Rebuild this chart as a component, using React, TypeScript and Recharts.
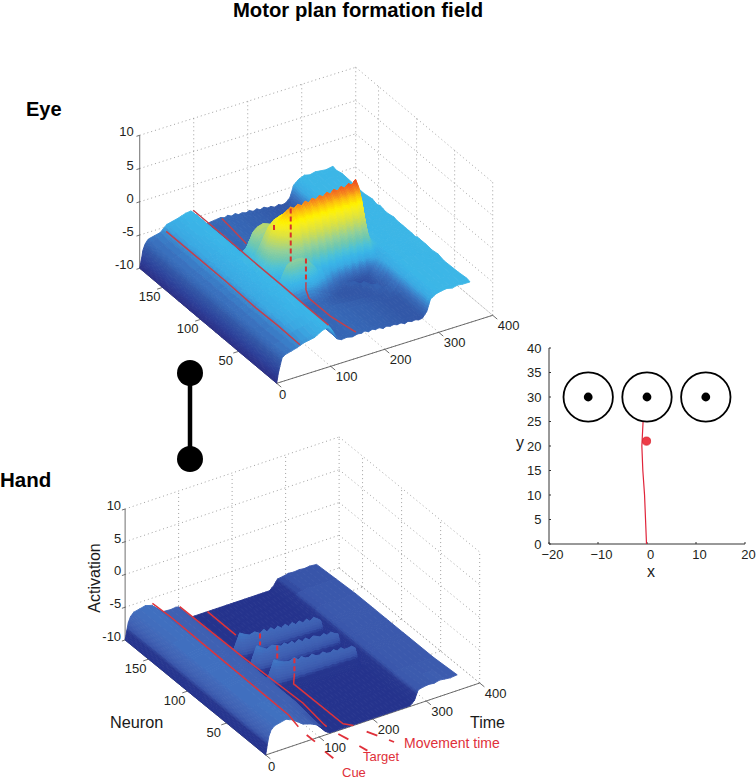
import { ScatterChart, Scatter, XAxis, YAxis } from "recharts";

const FONT = "'Liberation Sans', Arial, sans-serif";
const W = 756;
const H = 784;

// shared time samples of both surfaces
const times = [
  0, 3, 6, 10, 16, 38, 50, 70, 85, 95, 100, 105, 112, 120, 130, 140, 150, 157, 163, 170, 177, 183,
  190, 197, 203, 210, 217, 223, 230, 237, 243, 250, 257, 263, 270, 278, 285, 295, 305, 315, 325,
  335, 345, 358,
];

const timeTicks = [0, 100, 200, 300, 400];
const neuronTicks = [50, 100, 150];
const activationTicks = [-10, -5, 0, 5, 10];

// ---- eye surface, one row per neuron
const eyeLeft = [-10, -8.7, -7.5, -6.6, -6.2, -5.7, -4.8, -4.3, -4];
const eyeLeftB = [-10, -8.7, -7.5, -6.6, -6.1, -5.6, -4.6, -4.4, -3.9];
const eyeLeftC = [-10, -8.6, -7.4, -6.5, -6.2, -5.7, -4.9, -4.2, -4.1];
const eyeRight = [-4.8, -4, -3.9, -3.9, -3.9, -3.9, -3.9, -3.9];
const eyeRightB = [-4.7, -4.1, -3.8, -4, -3.85, -4.05, -3.8, -4];
const eyeRightC = [-4.9, -3.9, -4, -3.8, -4, -3.85, -4, -3.75];
const eyePeakRight = [-2.3, -3.7, -3.9, -4, -3.9, -3.9, -3.9, -3.9];
const eyeFlankRight = [-3.4, -3.9, -3.9, -4, -3.9, -3.9, -3.9, -3.9];
const eyeSoftRight = [-4.6, -4.1, -3.9, -3.9, -4, -3.9, -3.9, -3.8];
const eyePlain = [
  -3.9, -4.2, -5.1, -6.1, -6.5, -6.5, -6.4, -6.4, -6.4, -6.5, -6.5, -6.5, -6.6, -6.6, -6.6, -6.7,
  -6.7, -6.8, -6.8, -6.9, -6.9, -7, -7, -7, -7, -7, -6.4,
];
const eyeNeurons = [180, 176, 168, 150, 140, 128, 125, 122, 118, 114, 110, 105, 100, 96, 92, 88, 84, 80, 76, 72, 69, 66, 62, 58, 50, 42, 34, 15, 4, 0];
const eyeRows = [
  [-10, -8.8, -7.4, -6.6, -6, -5.6, -4.7, -4.3, -3.9, -3.8, -4.3, -5.2, -6, -6.6, -6.4, -6.3, -6.2, -6.4, -6.2, -6.5, -6.3, -6.6, -6.5, -6.7, -6.5, -6.8, -6.6, -6.9, -6.7, -7, -6.9, -7.2, -7, -7.2, -7.1, -6.5, -4.8, -4.1, -3.8, -4, -3.8, -3.9, -4, -3.8],
  [...eyeLeftB, ...eyePlain, ...eyeRightB],
  [...eyeLeft, ...eyePlain, ...eyeRightC],
  [...eyeLeftC, ...eyePlain, ...eyeRight],
  [...eyeLeftB, ...eyePlain, ...eyeRightB],
  [...eyeLeft, ...eyePlain, ...eyeRightC],
  [...eyeLeftC, -3.9, -4.2, -5, -5.2, -5.1, -5.1, -5.2, -5.6, -5.9, -6.1, -6.2, -6.3, -6.4, -6.5, -6.6, -6.6, -6.7, -6.7, -6.8, -6.9, -6.9, -7, -7, -7, -7, -7, -6.4, ...eyeRight],
  [...eyeLeft, -4, -4.3, -5, -5, -4.8, -4.7, -4.8, -5.3, -5.6, -5.8, -6, -6.1, -6.3, -6.4, -6.5, -6.6, -6.6, -6.7, -6.8, -6.9, -6.9, -7, -7, -7, -7, -7, -6.4, ...eyeRightB],
  [...eyeLeftB, -4.1, -4.2, -4.5, -4.3, -3.8, -3.6, -3.8, -4.2, -4.8, -5.3, -5.7, -6, -6.2, -6.4, -6.5, -6.6, -6.6, -6.7, -6.7, -6.8, -6.8, -6.9, -6.9, -7, -7, -7, -6.4, ...eyeRightC],
  [...eyeLeftC, -4, -3.6, -3.2, -2.4, -1.9, -1.7, -1.9, -2.4, -3, -3.6, -4.2, -4.8, -5.2, -5.6, -5.9, -6.2, -6.3, -6.5, -6.6, -6.7, -6.8, -6.9, -6.9, -7, -7, -7, -6.4, ...eyeRight],
  [...eyeLeft, -3.7, -3, -1.8, -0.6, -0.1, 0.1, -0.2, -0.6, -1.2, -2, -2.8, -3.5, -4.2, -4.8, -5.3, -5.7, -6, -6.3, -6.5, -6.7, -6.8, -6.9, -7, -7, -7, -7, -6.4, ...eyeRightB],
  [...eyeLeftB, -3.6, -2.8, -1.8, -1, -0.7, -0.5, -0.5, -0.8, -1, -1.3, -1.6, -2, -2.5, -2.9, -3.4, -3.8, -4.2, -4.6, -5, -5.3, -5.6, -5.8, -6, -6.2, -6.3, -6.3, -5.8, ...eyeRight],
  [...eyeLeft, -3.7, -3.2, -2.5, -2.4, -2.4, -2.2, -2, -2.1, -2, -1.9, -2, -1.9, -2, -1.9, -2.1, -2, -2.2, -2.1, -2.3, -2.2, -2.4, -2.3, -2.5, -2.4, -2.6, -2.5, -3, ...eyeRightC],
  [...eyeLeftC, -3.5, -2.5, -1.2, 0, 1.2, 2, 2.3, 2.5, 2.1, 2.6, 2.2, 2.7, 2.3, 2.8, 2.4, 2.9, 2.5, 3, 2.6, 3.1, 2.7, 3.2, 2.8, 3.3, 2.9, 3.4, -1.2, ...eyeFlankRight],
  [...eyeLeftB, -3.5, -2.8, -1.5, -0.3, 1, 2, 2.8, 3.2, 2.8, 3.3, 2.9, 3.4, 3, 3.5, 3.1, 3.6, 3.2, 3.7, 3.3, 3.8, 3.4, 3.9, 3.5, 4, 3.6, 4.2, -0.8, ...eyeFlankRight],
  [...eyeLeft, -3.5, -2.5, -1, 0.5, 2, 3, 3.7, 4.2, 3.8, 4.3, 3.9, 4.4, 4, 4.5, 4.1, 4.6, 4.2, 4.7, 4.3, 4.8, 4.4, 4.9, 4.5, 5, 4.6, 5.3, 0, ...eyePeakRight],
  [...eyeLeftC, -3.6, -2.8, -1.6, -0.5, 1, 2.2, 3, 3.6, 3, 3.7, 3.1, 3.8, 3.2, 3.9, 3.3, 4, 3.4, 4.1, 3.5, 4.2, 3.6, 4.3, 3.7, 4.4, 3.8, 4.5, -0.8, ...eyeFlankRight],
  [...eyeLeft, -3.8, -3.3, -2.6, -1.7, -0.5, 0.8, 1.6, 2.2, 1.2, 2.3, 1.3, 2.4, 1.4, 2.5, 1.5, 2.6, 1.6, 2.7, 1.7, 2.8, 1.8, 2.9, 1.9, 3, 2, 2.9, -1.5, ...eyeFlankRight],
  [...eyeLeftB, -3.9, -3.9, -3.9, -3.5, -2.5, -1.4, -0.6, 0.2, -1, 0.3, -0.9, 0.4, -0.8, 0.5, -0.8, 0.5, -0.7, 0.6, -0.7, 0.6, -0.6, 0.7, -0.6, 0.8, -0.5, 0.2, -2.6, ...eyeFlankRight],
  [...eyeLeftC, -3.9, -4.1, -4.6, -4.6, -4, -3.2, -2.6, -2, -3.4, -2, -3.6, -2.1, -3.7, -2.2, -3.8, -2.3, -3.8, -2.4, -3.9, -2.5, -4, -2.5, -4, -2.4, -4, -2.4, -3.6, ...eyeRightB],
  [...eyeLeft, -3.9, -4, -3.9, -3.3, -3, -2.7, -2.5, -2.6, -3.4, -3.2, -4.2, -3.6, -4.7, -4.1, -5.2, -4.6, -5.6, -5, -5.9, -5.2, -6.1, -5.3, -6.2, -5.4, -6.1, -4.8, -4.6, ...eyeSoftRight],
  [...eyeLeftB, -3.9, -3.7, -2.6, -1.5, -1.1, -1, -1.1, -1.6, -2.4, -2.9, -3.9, -4, -4.9, -5, -5.9, -5.8, -6.6, -6.4, -6.9, -7.1, -7.6, -7.7, -7.8, -7.6, -7.2, -6.2, -5.2, ...eyeSoftRight],
  [...eyeLeftC, -4, -4.3, -4.4, -3.5, -3, -3, -3.2, -3.6, -4.1, -4.5, -5.2, -5.2, -6.1, -6, -6.7, -6.6, -7, -6.8, -6.7, -6.5, -6.9, -7.6, -7.8, -7.5, -7, -6.2, -5.4, ...eyeSoftRight],
  [...eyeLeft, -3.9, -4.2, -5, -5.6, -5.3, -5.2, -5.3, -5.4, -5.7, -5.9, -6.2, -6.4, -6.7, -6.9, -7, -7.1, -7.1, -7.1, -7.1, -7, -6.8, -6.5, -6.9, -7.5, -7, -6.4, -5.7, ...eyeSoftRight],
  [...eyeLeftB, -3.9, -4.2, -5.1, -6.1, -6.5, -6.5, -6.4, -6.4, -6.5, -6.7, -6.8, -6.9, -7, -7, -7.1, -7.1, -7.1, -7.1, -7.1, -7.1, -7.1, -7, -6.6, -6.4, -6.9, -6.8, -6.2, ...eyeRight],
  [...eyeLeft, -3.9, -4.2, -5.1, -6.1, -6.5, -6.5, -6.4, -6.4, -6.5, -6.5, -6.6, -6.6, -6.7, -6.7, -6.8, -6.8, -6.9, -6.9, -7, -7, -7, -7, -7, -6.9, -6.7, -6.4, -5.8, ...eyeRightC],
  [...eyeLeftC, ...eyePlain, ...eyeRightB],
  [-10, -8.7, -7.5, -6.5, -6.1, -5.6, -5, -4.7, -4.3, ...eyePlain, ...eyeRight],
  [-10, -8.7, -7.5, -6.5, -6, -5.6, -5.3, -4.9, -4.3, ...eyePlain, ...eyeRightC],
  [-10, -8.6, -7.6, -6.4, -6.1, -5.6, -5.2, -4.9, -4.2, -4, -4.3, -5, -6.2, -6.5, -6.4, -6.6, -6.4, -6.5, -6.3, -6.6, -6.4, -6.6, -6.5, -6.8, -6.6, -6.8, -6.7, -6.9, -6.8, -7.1, -6.9, -7.1, -7, -7.2, -7.1, -6.3, -4.6, -4.1, -3.9, -3.8, -4, -3.8, -3.9, -3.9],
];

// ---- hand surface
const handLeft = [-10, -8.6, -7.4, -6.6, -6.1, -5.8, -6, -7.3, -7.4, -7.4];
const handRight = [-8.1, -7.9, -7.9, -7.9, -7.9, -7.9, -7.9, -7.9];
const handFloor = [
  -7.6, -8.6, -9.6, -9.9, -9.9, -9.9, -9.9, -9.9, -9.9, -9.9, -9.9, -9.9, -9.9, -9.9, -9.9, -9.9,
  -9.9, -9.9, -9.9, -9.9, -9.9, -9.9, -9.9, -9.9, -9.9, -9.3,
];
const handShoulder = [
  -7.6, -8.6, -7.6, -7.7, -7.8, -7.9, -8, -7.9, -8.1, -8, -8.1, -8.2, -8.2, -8.3, -8.2, -8.4,
  -8.3, -8.5, -8.4, -8.6, -8.5, -8.7, -8.6, -9, -9.8, -9.3,
];
const handRidgeA = [-7.6, -6.6, -5.2, -5.6, -6, -5.8, -6.3, -5.9, -6.4, -6, -6.5, -6.1, -6.6, -6.2, -6.7, -6.3, -6.8, -6.4, -6.9, -6.5, -7, -6.6, -7, -7.4, -9.6, -9.3];
const handRidgeB = [-7.6, -6.4, -5, -5.5, -6, -5.7, -6, -6.3, -6, -6.4, -6.1, -6.6, -6.2, -6.7, -6.3, -6.8, -6.4, -6.6, -6.9, -6.6, -7, -6.7, -7.1, -7.3, -9.6, -9.3];
const handRidgeC = [-7.6, -6.5, -5, -5.4, -5.8, -6, -5.7, -6.2, -5.9, -6.3, -6.4, -6.1, -6.5, -6.6, -6.3, -6.7, -6.8, -6.5, -6.9, -6.6, -7, -7, -6.9, -7.3, -9.6, -9.3];
const handNeurons = [180, 130, 113, 110, 107, 105, 91, 88, 85, 83, 69, 66, 63, 61, 30, 0];
const handRows = [
  [-10, -8.7, -7.5, -6.7, -6.2, -5.8, -6.1, -7.6, -7.7, -7.6, -7.7, -8.7, -9.7, ...handFloor.slice(3), -8.5, -8.4, -8.2, -8.3, -8.2, -8.3, -8.2, -8.3],
  [...handLeft, ...handFloor, ...handRight],
  [...handLeft, ...handFloor, ...handRight],
  [...handLeft, ...handRidgeA, ...handRight],
  [...handLeft, ...handShoulder, ...handRight],
  [...handLeft, ...handFloor, ...handRight],
  [...handLeft, ...handFloor, ...handRight],
  [...handLeft, ...handRidgeB, ...handRight],
  [...handLeft, ...handShoulder, ...handRight],
  [...handLeft, ...handFloor, ...handRight],
  [...handLeft, ...handFloor, ...handRight],
  [...handLeft, ...handRidgeC, ...handRight],
  [...handLeft, ...handShoulder, ...handRight],
  [...handLeft, ...handFloor, ...handRight],
  [...handLeft, ...handFloor, ...handRight],
  [-10, -8.5, -7.3, -6.5, -6, -5.6, -6, -7.2, -7.6, -8, -8.2, -8.6, -9.5, ...handFloor.slice(3), -7.9, -7.7, -7.6, -7.7, -7.5, -7.6, -7.7, -7.6],
];

// ---- red marker lines, each as [time, neuron, activation]
const eyeMarkerLines = [
  [[49, 180, -5.7], [48, 140, -5.6], [47, 100, -5.5], [46, 60, -5.6], [45, 30, -5.4], [43, 0, -5.3]],
  [[99, 180, -3.8], [98, 140, -3.7], [98, 100, -3.8], [97, 60, -3.7], [97, 30, -3.8], [96, 0, -3.7]],
  [[152, 180, -6.4], [151, 165, -6.6], [151, 147, -7]],
  [[150, 68, -5.3], [150, 68, -6.3], [150, 64, -7.2], [150, 36, -7.2], [149, 15, -6.6], [148, 1, -6.2]],
];
const eyeMarkerDashes = [
  [[150, 110, -0.6], [150, 110, -1.4]],
  [[150, 88, 4], [150, 88, -4]],
  [[150, 68, -1.6], [150, 68, -5.3]],
];
const handMarkerLines = [
  [[51, 180, -5.8], [52, 158, -5.7], [54, 93, -6], [56, 9, -6.3], [61, 0, -7.35]],
  [[102, 180, -7.7], [105, 100, -7.8], [108, 26, -7.6], [112, 3, -8.6], [114, 0, -8.8]],
  [[154, 180, -9.9], [153, 143, -9.85]],
  [[150, 66, -8.1], [150, 67, -9.8], [152, 5, -9.9], [164, 0, -10]],
];
const handMarkerDashes = [
  [[150, 110, -6.3], [150, 110, -8.1]],
  [[150, 88, -6], [150, 88, -8]],
  [[150, 66, -5.8], [150, 66, -8.1]],
];
const handLeaderTicks = [
  [[86.7, 6.9, -10], [86.9, -3.6, -10]],
  [[84, -18.4, -10], [84.2, -28.9, -10]],
  [[130.2, -3.8, -10], [134.8, -13.5, -10]],
  [[138.6, -25, -10], [141.7, -33.1, -10]],
  [[171.5, -11.8, -10], [179.2, -20.2, -10]],
  [[187.6, -29.4, -10], [191, -33.5, -10]],
];

// ---- trajectory panel
const planeTicksX = [-20, -10, 0, 10, 20];
const planeTicksY = [0, 5, 10, 15, 20, 25, 30, 35, 40];
const targets = [{ x: -12, y: 30 }, { x: 0, y: 30 }, { x: 12, y: 30 }];
const trajectory = [
  { x: -0.1, y: 0 }, { x: -0.3, y: 5 }, { x: -0.5, y: 10 }, { x: -0.85, y: 15 }, { x: -1.05, y: 20 }, { x: -0.8, y: 25 },
];
const hand = [{ x: -0.1, y: 21 }];

// colour maps, activation -> colour
const eyeColors: [number, string][] = [
  [-10, "#2b2f86"], [-8.7, "#2c3f98"], [-7, "#3258a8"], [-6, "#3a72bf"], [-5.3, "#3a90d4"], [-4.8, "#3aa8e2"], [-4, "#3ab5e8"],
  [-3, "#4dc2d8"], [-2, "#70c8b0"], [-1, "#93d19a"], [0, "#bcd96a"], [1, "#dfe33f"], [2, "#f7ee1e"], [2.6, "#fff200"],
  [3.5, "#fdc010"], [4.2, "#f58220"], [5, "#ee4e22"], [6, "#ee3124"],
];
const handColors: [number, string][] = [
  [-10, "#25338d"], [-8.7, "#27378f"], [-8.2, "#3854a9"], [-7.5, "#3f60b2"], [-6.5, "#4268b9"], [-5.5, "#3f74c3"], [-5, "#4a7cc6"],
];

type View = { ox: number; oy: number; tx: number; ty: number; nx: number; ny: number; zs: number; zDx: number };
const eyeView: View = { ox: 276.7, oy: 383.3, tx: 0.54, ty: -0.17, nx: -0.761, ny: -0.639, zs: 6.65, zDx: -6 };
const handView: View = { ox: 265.7, oy: 755, tx: 0.535, ty: -0.18, nx: -0.781, ny: -0.639, zs: 6.55, zDx: -4 };

const project = (v: View, t: number, n: number, z: number) => ({
  x: v.ox + t * v.tx + n * v.nx,
  y: v.oy + t * v.ty + n * v.ny - (z + 10) * v.zs,
});

const colorAt = (stops: [number, string][], z: number) => {
  if (z <= stops[0][0]) return stops[0][1];
  for (let i = 1; i < stops.length; i++) {
    if (z <= stops[i][0]) {
      const f = (z - stops[i - 1][0]) / (stops[i][0] - stops[i - 1][0]);
      const a = stops[i - 1][1];
      const b = stops[i][1];
      const ch = (k: number) => {
        const ca = parseInt(a.slice(k, k + 2), 16);
        const cb = parseInt(b.slice(k, k + 2), 16);
        return Math.round(ca + (cb - ca) * f);
      };
      return `rgb(${ch(1)},${ch(3)},${ch(5)})`;
    }
  }
  return stops[stops.length - 1][1];
};

// painter's order: far corner first. Big cells are split only for shading.
const buildSurface = (v: View, neurons: number[], rows: number[][], stops: [number, string][]) => {
  const cells: any[] = [];
  for (let r = 0; r < neurons.length - 1; r++) {
    for (let c = times.length - 2; c >= 0; c--) {
      const z00 = rows[r][c];
      const z01 = rows[r][c + 1];
      const z10 = rows[r + 1][c];
      const z11 = rows[r + 1][c + 1];
      const subT = Math.min(5, Math.max(1, Math.ceil(Math.max(Math.abs(z01 - z00), Math.abs(z11 - z10)) / 0.35)));
      const subN = Math.min(6, Math.max(1, Math.ceil(Math.max(Math.abs(z10 - z00), Math.abs(z11 - z01)) / 0.35)));
      const at = (a: number, b: number) => {
        const t = times[c] + (times[c + 1] - times[c]) * a;
        const n = neurons[r] + (neurons[r + 1] - neurons[r]) * b;
        const z = (z00 * (1 - a) + z01 * a) * (1 - b) + (z10 * (1 - a) + z11 * a) * b;
        return { ...project(v, t, n, z), z };
      };
      for (let j = 0; j < subN; j++) {
        for (let i = subT - 1; i >= 0; i--) {
          const p = [at(i / subT, j / subN), at((i + 1) / subT, j / subN), at((i + 1) / subT, (j + 1) / subN), at(i / subT, (j + 1) / subN)];
          cells.push({
            x: p[0].x,
            y: p[0].y,
            pts: p,
            fill: colorAt(stops, (p[0].z + p[1].z + p[2].z + p[3].z) / 4),
          });
        }
      }
    }
  }
  return cells;
};

const CellShape = (props: any) => {
  const { cx, cy, payload } = props;
  const dx = cx - payload.x;
  const dy = cy - payload.y;
  const pts = payload.pts.map((p: any) => `${(p.x + dx).toFixed(1)},${(p.y + dy).toFixed(1)}`).join(" ");
  return <polygon points={pts} fill={payload.fill} stroke={payload.fill} strokeWidth={0.9} strokeLinejoin="round" />;
};

const seg = (v: View, a: number[], b: number[]) => {
  const p = project(v, a[0], a[1], a[2]);
  const q = project(v, b[0], b[1], b[2]);
  return { x: p.x, y: p.y, x2: q.x, y2: q.y };
};

const gridSegments = (v: View) => {
  const out: any[] = [];
  activationTicks.forEach((z) => {
    out.push(seg(v, [0, 180, z], [400, 180, z]));
    out.push(seg(v, [400, 180, z], [400, 0, z]));
  });
  timeTicks.slice(1).forEach((t) => {
    out.push(seg(v, [t, 180, -10], [t, 180, 10]));
    out.push(seg(v, [t, 0, -10], [t, 180, -10]));
  });
  [0, ...neuronTicks].forEach((n) => {
    out.push(seg(v, [400, n, -10], [400, n, 10]));
    out.push(seg(v, [0, n, -10], [400, n, -10]));
  });
  return out;
};

const axisSegments = (v: View) => {
  const out: any[] = [seg(v, [0, 180, -10], [0, 180, 10]), seg(v, [0, 0, -10], [400, 0, -10]), seg(v, [0, 0, -10], [0, 180, -10])];
  timeTicks.forEach((t) => out.push(seg(v, [t, 0, -10], [t, -6, -10])));
  neuronTicks.forEach((n) => out.push(seg(v, [0, n, -10], [-10, n, -10])));
  activationTicks.forEach((z) => out.push(seg(v, [0, 180, z], [-6, 180, z])));
  return out;
};

const GridShape = (props: any) => {
  const { cx, cy, payload } = props;
  return (
    <line x1={cx} y1={cy} x2={cx + payload.x2 - payload.x} y2={cy + payload.y2 - payload.y}
      stroke="#969696" strokeWidth={0.9} strokeDasharray="1 3" />
  );
};
const AxisShape = (props: any) => {
  const { cx, cy, payload } = props;
  return (
    <line x1={cx} y1={cy} x2={cx + payload.x2 - payload.x} y2={cy + payload.y2 - payload.y}
      stroke="#4a4a4a" strokeWidth={0.8} />
  );
};
const TickText = (props: any) => {
  const { cx, cy, payload } = props;
  return (
    <text x={cx + payload.dx} y={cy + payload.dy} textAnchor={payload.anchor} fontSize={13} fontFamily={FONT} fill="#231f20">
      {payload.label}
    </text>
  );
};
const NoDot = () => <g />;

const tickLabels = (v: View) => [
  ...timeTicks.map((t) => ({
    ...project(v, t, 0, -10),
    label: String(t),
    dx: t === 0 ? 6 : 16,
    dy: t === 0 ? 16 : 15,
    anchor: "middle",
  })),
  ...neuronTicks.map((n) => ({
    ...project(v, 0, n, -10),
    label: String(n),
    dx: -13,
    dy: 14,
    anchor: "middle",
  })),
  ...activationTicks.map((z) => ({
    ...project(v, 0, 180, z),
    label: String(z),
    dx: v.zDx,
    dy: 1,
    anchor: "end",
  })),
];

const curve = (v: View, pts: number[][]) => pts.map((p) => project(v, p[0], p[1], p[2]));

const eyeCells = buildSurface(eyeView, eyeNeurons, eyeRows, eyeColors);
const handCells = buildSurface(handView, handNeurons, handRows, handColors);

function Surface3D() {
  const panels = [
    { v: eyeView, cells: eyeCells, lines: eyeMarkerLines, dashes: eyeMarkerDashes, line: "#c2404c", dash: "#d8322c" },
    { v: handView, cells: handCells, lines: handMarkerLines, dashes: handMarkerDashes, line: "#e0343a", dash: "#e0303a" },
  ];
  return (
    <ScatterChart width={W} height={H} margin={{ top: 0, right: 0, bottom: 0, left: 0 }}>
      <XAxis type="number" dataKey="x" domain={[0, W]} hide />
      <YAxis type="number" dataKey="y" domain={[0, H]} reversed hide />
      {panels.flatMap((p, k) => [
        <Scatter key={`g${k}`} data={gridSegments(p.v)} shape={GridShape} isAnimationActive={false} />,
        <Scatter key={`a${k}`} data={axisSegments(p.v)} shape={AxisShape} isAnimationActive={false} />,
        <Scatter key={`t${k}`} data={tickLabels(p.v)} shape={TickText} isAnimationActive={false} />,
        <Scatter key={`s${k}`} data={p.cells} shape={CellShape} isAnimationActive={false} />,
        ...p.lines.map((l, i) => (
          <Scatter key={`l${k}${i}`} data={curve(p.v, l)} shape={NoDot} line={{ stroke: p.line, strokeWidth: 1.5 }} isAnimationActive={false} />
        )),
        ...p.dashes.map((l, i) => (
          <Scatter key={`d${k}${i}`} data={curve(p.v, l)} shape={NoDot} line={{ stroke: p.dash, strokeWidth: 2, strokeDasharray: "5 3" }} isAnimationActive={false} />
        )),
      ])}
      {handLeaderTicks.map((l, i) => (
        <Scatter key={`m${i}`} data={curve(handView, l)} shape={NoDot} line={{ stroke: "#e0303a", strokeWidth: 1.8 }} isAnimationActive={false} />
      ))}
    </ScatterChart>
  );
}

const TargetShape = (props: any) => {
  const { cx, cy } = props;
  return (
    <g>
      <circle cx={cx} cy={cy} r={24.7} fill="none" stroke="#000" strokeWidth={1.8} />
      <circle cx={cx} cy={cy} r={4.4} fill="#000" />
    </g>
  );
};
const HandDot = (props: any) => (
  <circle cx={props.cx} cy={props.cy} r={4.1} fill="#ee3b47" stroke="#d8232f" strokeWidth={0.8} />
);

function TrajectoryPanel() {
  const tick = { fontSize: 13, fontFamily: FONT, fill: "#231f20" };
  return (
    <div style={{ position: "absolute", left: 500, top: 330 }}>
      <ScatterChart width={256} height={250} margin={{ top: 18, right: 11, bottom: 6, left: 19 }}>
        <XAxis type="number" dataKey="x" domain={[-20, 20]} ticks={planeTicksX} interval={0} height={30}
          tickFormatter={(v: number) => String(v).replace("-", "\u2212")}
          tick={{ ...tick, dx: 3.5 }} tickSize={-2} tickMargin={8} axisLine={{ stroke: "#333" }} tickLine={{ stroke: "#333" }} />
        <YAxis type="number" dataKey="y" domain={[0, 40]} ticks={planeTicksY} interval={0} width={30}
          tick={tick} tickSize={-2} tickMargin={9.5} axisLine={{ stroke: "#333" }} tickLine={{ stroke: "#333" }} />
        <Scatter data={trajectory} shape={NoDot} line={{ stroke: "#e0243a", strokeWidth: 1.2 }} isAnimationActive={false} />
        <Scatter data={targets} shape={TargetShape} isAnimationActive={false} />
        <Scatter data={hand} shape={HandDot} isAnimationActive={false} />
      </ScatterChart>
    </div>
  );
}

export default function App() {
  return (
    <div style={{ position: "absolute", left: 0, top: 0, width: W, height: H, background: "#fff", overflow: "hidden" }}>
      <Surface3D />
      <TrajectoryPanel />
      <svg width={W} height={H} style={{ position: "absolute", left: 0, top: 0, pointerEvents: "none" }} fontFamily={FONT}>
        <text x={358} y={17} textAnchor="middle" fontSize={20.3} fontWeight="bold" fill="#000">Motor plan formation field</text>
        <text x={26} y={116} fontSize={20} fontWeight="bold" fill="#000">Eye</text>
        <text x={0} y={487} fontSize={20.5} fontWeight="bold" fill="#000">Hand</text>
        <line x1={190} y1={373} x2={190} y2={459} stroke="#000" strokeWidth={4.5} />
        <circle cx={190} cy={373} r={13} fill="#000" />
        <circle cx={190} cy={459} r={13} fill="#000" />
        <text x={100} y={578} textAnchor="middle" fontSize={16} fill="#1a1a1a" transform="rotate(-90 100 578)">Activation</text>
        <text x={110} y={728} fontSize={16.3} fill="#1a1a1a">Neuron</text>
        <text x={470} y={728} fontSize={16} fill="#1a1a1a">Time</text>
        <text x={404} y={748} fontSize={14} fill="#e0303a">Movement time</text>
        <text x={363} y={761} fontSize={13} fill="#e0303a">Target</text>
        <text x={342} y={777} fontSize={13} fill="#e0303a">Cue</text>
        <text x={516} y={448} fontSize={16} fill="#1a1a1a">y</text>
        <text x={647} y={577} fontSize={16} fill="#1a1a1a">x</text>
      </svg>
    </div>
  );
}
